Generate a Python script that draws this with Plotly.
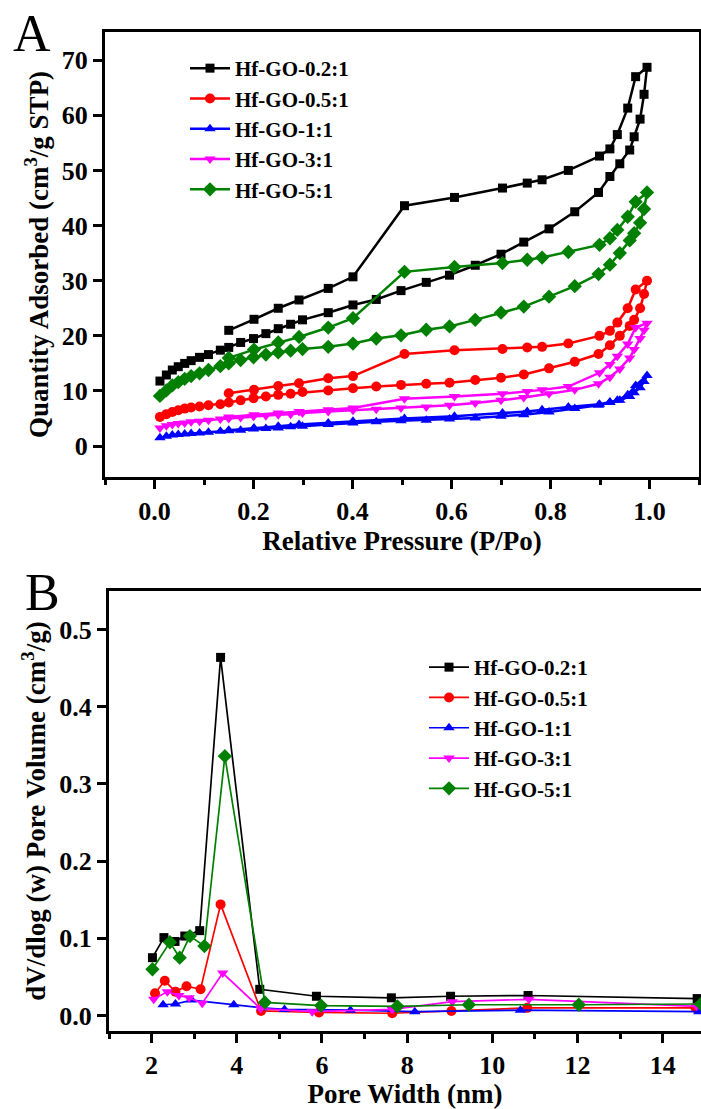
import plotly.graph_objects as go

# ---------------- Panel A: N2 isotherms ----------------
P_ads = [0.011, 0.024, 0.036, 0.048, 0.061, 0.074, 0.091, 0.109, 0.133, 0.150, 0.174,
         0.200, 0.225, 0.250, 0.275, 0.299, 0.351, 0.401, 0.448, 0.498, 0.549, 0.596,
         0.648, 0.700, 0.746, 0.797, 0.849, 0.897, 0.920, 0.940, 0.960, 0.969, 0.981,
         0.989, 0.995]
P_des = [0.972, 0.956, 0.935, 0.920, 0.899, 0.836, 0.783, 0.753, 0.703, 0.606, 0.505,
         0.401, 0.351, 0.292, 0.250, 0.201, 0.150]

ads_02 = [11.8, 12.9, 13.8, 14.4, 15.0, 15.5, 16.1, 16.6, 17.4, 17.9, 18.8, 19.5, 20.4,
          21.3, 22.1, 22.9, 24.2, 25.6, 26.6, 28.2, 29.7, 31.0, 32.8, 34.8, 37.0, 39.4,
          42.5, 46.0, 48.9, 51.2, 53.7, 56.1, 59.3, 63.8, 68.7]
des_02 = [67.0, 61.3, 56.5, 53.9, 52.6, 50.0, 48.3, 47.7, 46.8, 45.1, 43.6, 30.7, 28.6,
          26.5, 25.0, 23.0, 21.0]

ads_05 = [5.3, 5.8, 6.2, 6.5, 6.8, 7.0, 7.2, 7.4, 7.6, 7.9, 8.3, 8.7, 9.0, 9.3, 9.5, 9.8,
          10.1, 10.5, 10.8, 11.1, 11.3, 11.5, 12.0, 12.4, 13.0, 14.1, 15.3, 16.7, 18.3,
          20.0, 21.8, 22.9, 25.0, 27.6, 30.0]
des_05 = [28.4, 25.0, 22.4, 20.9, 20.0, 18.6, 18.0, 17.9, 17.6, 17.4, 16.7, 12.7, 12.3,
          11.4, 10.9, 10.2, 9.6]

ads_1 = [1.5, 1.8, 2.0, 2.1, 2.2, 2.3, 2.4, 2.5, 2.7, 2.8, 2.9, 3.1, 3.2, 3.3, 3.5, 3.6,
         3.9, 4.2, 4.4, 4.6, 4.7, 4.9, 5.1, 5.4, 5.7, 6.2, 6.8, 7.4, 7.9, 8.3, 9.0, 9.7,
         10.6, 11.7, 12.8]
des_1 = [11.0, 9.3, 8.3, 8.0, 7.6, 7.1, 6.6, 6.3, 6.0, 5.4, 5.0, 4.5, 4.2, 3.9, 3.6, 3.3, 2.9]

ads_3 = [3.3, 3.7, 3.9, 4.1, 4.2, 4.4, 4.5, 4.7, 4.9, 5.0, 5.2, 5.4, 5.5, 5.7, 5.8, 6.0,
         6.3, 6.5, 6.7, 6.9, 7.1, 7.4, 7.8, 8.3, 8.8, 9.5, 10.2, 11.3, 12.5, 14.0, 16.0,
         17.5, 19.5, 21.0, 22.3]
des_3 = [21.5, 18.5, 16.3, 14.8, 13.3, 10.8, 10.2, 9.9, 9.5, 9.0, 8.6, 6.9, 6.6, 6.3, 6.0,
         5.7, 5.3]

ads_5 = [9.1, 10.1, 11.0, 11.6, 12.2, 12.7, 13.2, 13.8, 14.5, 15.0, 15.6, 16.1, 16.6, 17.0,
         17.3, 17.6, 18.0, 18.6, 19.5, 20.1, 21.1, 21.7, 22.9, 24.2, 25.3, 27.1, 29.0,
         31.2, 32.9, 35.0, 37.3, 38.6, 40.5, 43.0, 46.0]
des_5 = [44.3, 41.6, 39.2, 37.7, 36.5, 35.2, 34.2, 33.8, 33.2, 32.5, 31.6, 23.2, 21.5,
         19.8, 18.8, 17.5, 16.0]

# ---------------- Panel B: pore size distribution ----------------
w_02 = [2.02, 2.29, 2.55, 2.78, 3.13, 3.62, 4.54, 5.87, 7.63, 9.02, 10.84, 14.81]
v_02 = [0.075, 0.101, 0.096, 0.103, 0.110, 0.464, 0.034, 0.025, 0.023, 0.025, 0.026, 0.022]
w_05 = [2.08, 2.31, 2.56, 2.82, 3.15, 3.62, 4.57, 5.93, 7.65, 9.04, 10.82, 14.77]
v_05 = [0.029, 0.045, 0.031, 0.038, 0.034, 0.144, 0.006, 0.004, 0.003, 0.006, 0.010, 0.010]
w_1 = [2.27, 2.56, 2.94, 3.93, 4.60, 5.12, 6.67, 8.18, 10.66, 14.85]
v_1 = [0.014, 0.015, 0.020, 0.014, 0.010, 0.008, 0.007, 0.005, 0.007, 0.005]
w_3 = [2.05, 2.37, 2.64, 2.88, 3.19, 3.67, 4.56, 5.77, 7.65, 9.06, 10.86, 14.80]
v_3 = [0.021, 0.031, 0.026, 0.023, 0.016, 0.055, 0.009, 0.005, 0.008, 0.018, 0.021, 0.012]
w_5 = [2.02, 2.43, 2.66, 2.90, 3.24, 3.72, 4.66, 5.98, 7.77, 9.45, 12.03, 14.90]
v_5 = [0.060, 0.095, 0.075, 0.103, 0.090, 0.336, 0.017, 0.013, 0.012, 0.014, 0.014, 0.015]

names = ["Hf-GO-0.2:1", "Hf-GO-0.5:1", "Hf-GO-1:1", "Hf-GO-3:1", "Hf-GO-5:1"]
colors = ["#000000", "#ff0000", "#0000ff", "#ff00ff", "#008000"]
symbols = ["square", "circle", "triangle-up", "triangle-down", "diamond"]
msizes = [9, 10, 10, 10, 11]

iso = [(ads_02, des_02), (ads_05, des_05), (ads_1, des_1), (ads_3, des_3), (ads_5, des_5)]
psd = [(w_02, v_02), (w_05, v_05), (w_1, v_1), (w_3, v_3), (w_5, v_5)]

FONT = "Liberation Serif"
fig = go.Figure()

for i in range(5):
    ads, des = iso[i]
    fig.add_trace(go.Scatter(
        x=P_ads + P_des, y=ads + des, mode="lines+markers", name=names[i],
        line=dict(color=colors[i], width=2.5),
        marker=dict(symbol=symbols[i], size=msizes[i], color=colors[i]),
        xaxis="x", yaxis="y", legend="legend"))

for i in range(5):
    w, v = psd[i]
    fig.add_trace(go.Scatter(
        x=w, y=v, mode="lines+markers", name=names[i],
        line=dict(color=colors[i], width=1.7),
        marker=dict(symbol=symbols[i], size=msizes[i], color=colors[i]),
        xaxis="x2", yaxis="y2", legend="legend2"))

W, H = 701, 1109
TICK = 26
TITLE = 27
LEG = 21
axis_common = dict(showgrid=False, zeroline=False, linecolor="black", linewidth=3,
                   ticks="outside", ticklen=9, tickwidth=2.5, tickcolor="black",
                   tickfont=dict(family=FONT, size=TICK, color="black", weight="bold"))

def ttl(text, standoff):
    return dict(text="<b>" + text + "</b>", standoff=standoff,
                font=dict(family=FONT, size=TITLE, color="black"))

fig.update_layout(
    width=W, height=H, margin=dict(l=0, r=0, t=0, b=0),
    paper_bgcolor="white", plot_bgcolor="white",
    font=dict(family=FONT, color="black"),
    xaxis=dict(domain=[105 / W, 699 / W], range=[-0.1, 1.1], anchor="y",
               dtick=0.2, tick0=0, tickformat=".1f", mirror=True,
               minor=dict(dtick=0.1, tick0=0, ticks="outside", ticklen=5, tickwidth=2.5, tickcolor="black"),
               title=ttl("Relative Pressure (P/Po)", 4),
               **axis_common),
    yaxis=dict(domain=[1 - 477 / H, 1 - 32 / H], range=[-5.6, 75.1], anchor="x",
               dtick=10, tick0=0, mirror=True,
               title=ttl("Quantity Adsorbed (cm<sup>3</sup>/g STP)", 6),
               **axis_common),
    xaxis2=dict(domain=[109 / W, 1.0], range=[1.0, 14.9], anchor="y2",
                dtick=2, tick0=0, mirror=True,
                minor=dict(dtick=1, tick0=1, ticks="outside", ticklen=5, tickwidth=2.5, tickcolor="black"),
                title=ttl("Pore Width (nm)", 4),
                **axis_common),
    yaxis2=dict(domain=[1 - 1031 / H, 1 - 591 / H], range=[-0.02, 0.55], anchor="x2",
                dtick=0.1, tick0=0, tickformat=".1f",
                title=ttl("dV/dlog (w) Pore Volume (cm<sup>3</sup>/g)", 6),
                **axis_common),
    legend=dict(x=185 / W, y=1 - 48 / H, xanchor="left", yanchor="top",
                bgcolor="rgba(0,0,0,0)", borderwidth=0,
                font=dict(family=FONT, size=LEG, color="black", weight="bold"),
                itemwidth=40, tracegroupgap=0),
    legend2=dict(x=424 / W, y=1 - 647 / H, xanchor="left", yanchor="top",
                 bgcolor="rgba(0,0,0,0)", borderwidth=0,
                 font=dict(family=FONT, size=LEG, color="black", weight="bold"),
                 itemwidth=40, tracegroupgap=0),
    annotations=[
        dict(text="A", x=32 / W, y=1 - 34 / H, xref="paper", yref="paper",
             showarrow=False, xanchor="center", yanchor="middle",
             font=dict(family=FONT, size=52, color="black")),
        dict(text="B", x=42 / W, y=1 - 592 / H, xref="paper", yref="paper",
             showarrow=False, xanchor="center", yanchor="middle",
             font=dict(family=FONT, size=52, color="black")),
    ],
)

fig.write_html("out.html")
